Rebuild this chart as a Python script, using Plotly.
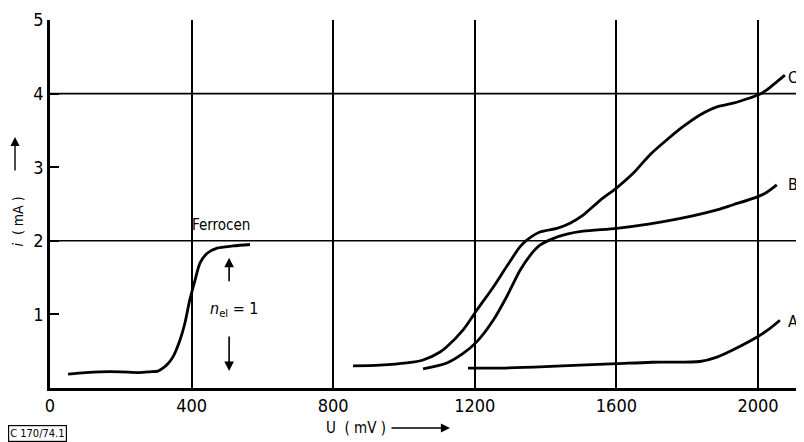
import plotly.graph_objects as go

# Ferrocen curve
ferro_u = [51, 100, 141, 200, 250, 282, 305, 319, 333, 347, 367, 381, 395, 410, 424, 444, 472, 517, 565]
ferro_i = [0.19, 0.21, 0.22, 0.22, 0.21, 0.22, 0.23, 0.27, 0.33, 0.42, 0.65, 0.88, 1.20, 1.47, 1.70, 1.83, 1.90, 1.93, 1.95]

# Curve C
c_u = [856, 932, 1008, 1054, 1102, 1121, 1167, 1206, 1252, 1290, 1328, 1347, 1384, 1432, 1469, 1506,
       1554, 1601, 1648, 1695, 1742, 1788, 1836, 1884, 1930, 1977, 2000, 2025, 2053, 2076]
c_i = [0.30, 0.31, 0.34, 0.38, 0.49, 0.56, 0.79, 1.06, 1.37, 1.65, 1.92, 2.01, 2.12, 2.17, 2.24, 2.35,
       2.55, 2.72, 2.92, 3.17, 3.37, 3.55, 3.71, 3.82, 3.87, 3.94, 3.98, 4.05, 4.16, 4.25]

# Curve B
b_u = [1054, 1121, 1167, 1206, 1252, 1290, 1328, 1356, 1384, 1421, 1460, 1506, 1601, 1695, 1788, 1884, 1930, 2000, 2025, 2053]
b_i = [0.26, 0.34, 0.47, 0.63, 0.92, 1.24, 1.60, 1.80, 1.94, 2.03, 2.09, 2.13, 2.17, 2.23, 2.31, 2.42, 2.49, 2.60, 2.66, 2.76]

# Curve A
a_u = [1181, 1271, 1400, 1497, 1601, 1700, 1836, 1884, 1930, 2000, 2034, 2062]
a_i = [0.27, 0.27, 0.29, 0.31, 0.33, 0.35, 0.36, 0.42, 0.52, 0.70, 0.81, 0.92]

x_ticks = [0, 400, 800, 1200, 1600, 2000]
x_ticktext = ["0", "400", "800", "1200", "1600", "2000"]
y_ticks = [1, 2, 3, 4, 5]
y_grid = [2, 4]

curve_labels = ["A", "B", "C"]
curve_label_pos = [(2100, 0.90), (2098, 2.76), (2098, 4.22)]

FONT = "DejaVu Sans Condensed"
LW = 2.8

fig = go.Figure()
for xs, ys in [(ferro_u, ferro_i), (c_u, c_i), (b_u, b_i), (a_u, a_i)]:
    fig.add_trace(go.Scatter(x=xs, y=ys, mode="lines",
                             line=dict(color="black", width=LW, shape="spline", smoothing=0.8),
                             showlegend=False, hoverinfo="skip"))

for yv in y_grid:
    fig.add_shape(type="line", xref="paper", x0=0, x1=1, yref="y", y0=yv, y1=yv,
                  line=dict(color="black", width=1.6), layer="below")

for lab, (xu, yi) in zip(curve_labels, curve_label_pos):
    fig.add_annotation(x=xu, y=yi, text=lab, showarrow=False, xanchor="center",
                       font=dict(family=FONT, size=16, color="black"))

# Ferrocen label
fig.add_annotation(x=483, y=2.22, text="Ferrocen", showarrow=False,
                   font=dict(family=FONT, size=15, color="black"))
# n_el = 1 label with double arrow
fig.add_annotation(x=520, y=1.06, text="<i>n</i><sub>el</sub> = 1", showarrow=False,
                   font=dict(family=FONT, size=16, color="black"))
fig.add_annotation(x=506, y=1.77, ax=506, ay=1.43, axref="x", ayref="y", text="",
                   showarrow=True, arrowhead=2, arrowsize=1.2, arrowwidth=1.6, arrowcolor="black")
fig.add_annotation(x=506, y=0.23, ax=506, ay=0.72, axref="x", ayref="y", text="",
                   showarrow=True, arrowhead=2, arrowsize=1.2, arrowwidth=1.6, arrowcolor="black")

# Axis titles as annotations
fig.add_annotation(xref="paper", yref="paper", x=0.406, y=-0.1087, xanchor="center", yanchor="middle",
                   text="U  ( mV )", showarrow=False, font=dict(family=FONT, size=15, color="black"))
fig.add_annotation(xref="paper", yref="paper", x=0.5305, y=-0.1087, ax=-60, ay=0, text="",
                   showarrow=True, arrowhead=2, arrowsize=1.3, arrowwidth=1.4, arrowcolor="black")
fig.add_annotation(xref="paper", yref="paper", x=-0.043, y=0.451, xanchor="center", yanchor="middle",
                   text="<i>i</i>  ( mA )", textangle=-90, showarrow=False,
                   font=dict(family=FONT, size=14, color="black"))
fig.add_annotation(xref="paper", yref="paper", x=-0.0464, y=0.682, ax=0, ay=35, text="",
                   showarrow=True, arrowhead=2, arrowsize=1.3, arrowwidth=1.4, arrowcolor="black")

# Figure code box
fig.add_annotation(xref="paper", yref="paper", x=-0.0557, y=-0.100, xanchor="left", yanchor="top",
                   text="C 170/74.1", showarrow=False, bordercolor="black", borderwidth=1.2, borderpad=1,
                   font=dict(family=FONT, size=11, color="black"))

# page body has an 8px margin, so the figure is 8px smaller and shifted accordingly
fig.update_layout(
    width=796, height=434,
    margin=dict(l=42, r=0, t=12, b=54),
    paper_bgcolor="white", plot_bgcolor="white",
    xaxis=dict(range=[0, 2130], tickvals=x_ticks, ticktext=x_ticktext, showgrid=True,
               gridcolor="black", gridwidth=1.6, showline=True, linecolor="black", linewidth=2.5,
               ticks="", zeroline=False, tickfont=dict(family=FONT, size=18, color="black")),
    yaxis=dict(range=[0, 5], tickvals=y_ticks, showgrid=False, showline=True, linecolor="black",
               linewidth=2.5, ticks="inside", ticklen=9, tickwidth=1.6, tickcolor="black",
               zeroline=False, tickfont=dict(family=FONT, size=18, color="black")),
)

fig.write_html("out.html")
